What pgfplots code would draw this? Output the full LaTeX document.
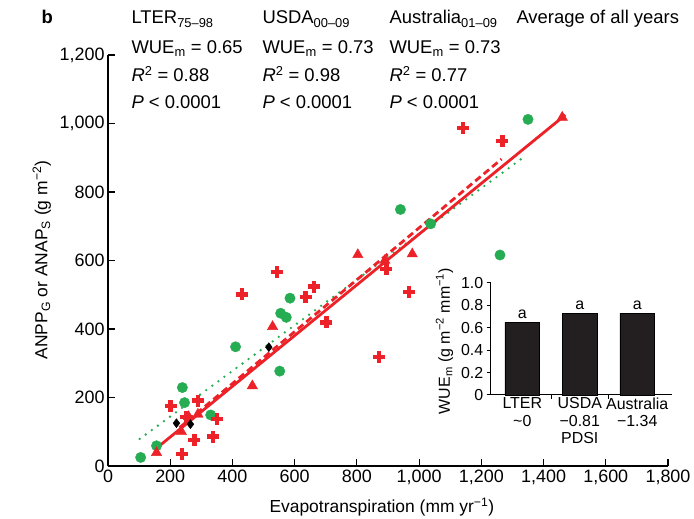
\documentclass[border=0pt]{standalone}
\usepackage{fontspec}
\setmainfont{Liberation Sans}
\usepackage{pgfplots}
\pgfplotsset{compat=1.18}

\definecolor{ptgreen}{RGB}{38,172,82}
\definecolor{ptred}{RGB}{236,34,40}
\definecolor{barblack}{RGB}{35,31,32}

\newcommand{\headfs}{\fontsize{18.5}{22}\selectfont}
\newcommand{\tickfs}{\fontsize{18}{21}\selectfont}
\newcommand{\labelfs}{\fontsize{17.5}{21}\selectfont}
\newcommand{\insetfs}{\fontsize{16}{17.5}\selectfont}

\begin{document}
\begin{tikzpicture}[font=\headfs]
\path[use as bounding box] (0bp,0bp) rectangle (694bp,519bp);

% panel letter and statistics header
\node[anchor=base west, font=\headfs\bfseries] at (38bp,495bp) {b};
\node[anchor=base west] at (128bp,495bp) {LTER\textsubscript{75–98}};
\node[anchor=base west] at (259bp,495bp) {USDA\textsubscript{00–09}};
\node[anchor=base west] at (386bp,495bp) {Australia\textsubscript{01–09}};
\node[anchor=base west] at (513bp,495bp) {Average of all years};

\node[anchor=base west] at (128bp,465bp) {WUE\textsubscript{m} = 0.65};
\node[anchor=base west] at (259bp,465bp) {WUE\textsubscript{m} = 0.73};
\node[anchor=base west] at (386bp,465bp) {WUE\textsubscript{m} = 0.73};

\node[anchor=base west] at (128bp,437bp) {\textit{R}\textsuperscript{2} = 0.88};
\node[anchor=base west] at (259bp,437bp) {\textit{R}\textsuperscript{2} = 0.98};
\node[anchor=base west] at (386bp,437bp) {\textit{R}\textsuperscript{2} = 0.77};

\node[anchor=base west] at (128bp,410bp) {\textit{P} < 0.0001};
\node[anchor=base west] at (259bp,410bp) {\textit{P} < 0.0001};
\node[anchor=base west] at (386bp,410bp) {\textit{P} < 0.0001};

% main scatter: production versus evapotranspiration
\begin{axis}[
  at={(108bp,53bp)}, anchor=south west,
  scale only axis, width=560bp, height=411bp,
  xmin=0, xmax=1800, ymin=0, ymax=1200,
  axis x line*=bottom, axis y line*=left,
  axis line style={line width=1.1bp, black},
  tick align=inside, major tick length=7bp,
  every tick/.style={black, line width=1.1bp},
  xtick={0,200,400,600,800,1000,1200,1400,1600,1800},
  xticklabels={0,200,400,600,800,{1,000},{1,200},{1,400},{1,600},{1,800}},
  ytick={0,200,400,600,800,1000,1200},
  yticklabels={0,200,400,600,800,{1,000},{1,200}},
  /pgf/number format/assume math mode=true,
  tick label style={font=\tickfs},
  xlabel={Evapotranspiration (mm yr\textsuperscript{−1})},
  ylabel={ANPP\textsubscript{G} or ANAP\textsubscript{S} (g m\textsuperscript{−2})},
  label style={font=\labelfs},
  xlabel style={at={(axis description cs:0.489,-0.1)}, anchor=center},
  ylabel style={at={(axis description cs:-0.118,0.501)}, anchor=center},
  clip=false,
]
% LTER sites
\addplot[only marks, mark=*, mark size=5.2bp, ptgreen] coordinates {
  (105,25) (156,59) (239,229) (246,185) (330,149) (410,348) (552,277)
  (555,446) (573,434) (585,490) (940,749) (1037,707) (1260,616) (1350,1012)
};
% USDA sites
\addplot[only marks, mark=+, mark size=6bp, ptred, mark options={line width=4.2bp}] coordinates {
  (201,176) (290,191) (252,144) (351,137) (278,76) (338,86) (239,34)
  (431,501) (542,566) (662,524) (635,494) (702,419) (967,509) (871,319)
  (1142,988) (1268,950) (895,575)
};
% Australian sites
\addplot[only marks, mark=triangle*, mark size=6bp, ptred] coordinates {
  (156,39) (236,100) (259,144) (289,151) (464,234) (529,407) (803,617)
  (890,600) (978,619) (1460,1018)
};
% regression lines
\addplot[ptgreen, line width=2.6bp, line cap=round, dash pattern=on 0bp off 7.5bp] coordinates {(102,79) (1335,901)};
\addplot[ptred, line width=2.8bp, dash pattern=on 7bp off 4bp] coordinates {(230,112) (1265,896)};
\addplot[ptred, line width=2.8bp] coordinates {(156,52) (1470,1025)};
% averages of all years
\addplot[only marks, mark=diamond*, mark size=4.5bp, black] coordinates {
  (220,125) (265,122) (517,347)
};
\end{axis}

% inset: mean water-use efficiency per network
\begin{axis}[
  at={(490.7bp,124bp)}, anchor=south west,
  scale only axis, width=181bp, height=112.3bp,
  xmin=-0.55, xmax=2.6, ymin=0, ymax=1,
  axis x line*=bottom, axis y line*=left,
  axis line style={line width=1bp, black},
  every tick/.style={black, line width=1bp},
  tick align=outside, major tick length=4bp,
  ybar, bar width=0.605,
  ytick={0,0.2,0.4,0.6,0.8,1},
  yticklabels={0,0.2,0.4,0.6,0.8,1.0},
  xtick={0.5,1.5}, xticklabels={},
  extra x ticks={0,1,2},
  extra x tick labels={{LTER\\\textasciitilde0},{USDA\\−0.81\\PDSI},{Australia\\−1.34}},
  extra x tick style={major tick length=0pt, tick label style={align=center, font=\insetfs, anchor=north, inner sep=2.5bp}},
  tick label style={font=\insetfs},
  /pgf/number format/assume math mode=true,
  ylabel={WUE\textsubscript{m} (g m\textsuperscript{−2} mm\textsuperscript{−1})},
  ylabel style={font=\insetfs, at={(axis description cs:-0.255,0.48)}, anchor=center},
  nodes near coords={a},
  every node near coord/.append style={font=\insetfs, black},
  clip=false,
]
\addplot[fill=barblack, draw=black] coordinates {(0,0.65) (1,0.73) (2,0.73)};
\end{axis}
\end{tikzpicture}
\end{document}
